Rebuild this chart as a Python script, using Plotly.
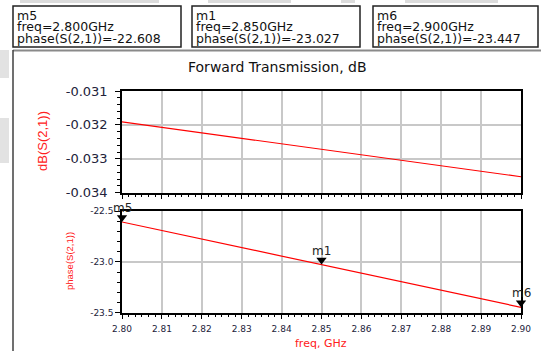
import plotly.graph_objects as go

# Sweep points (GHz) and the two traces of S(2,1)
freq_ghz = [2.80, 2.81, 2.82, 2.83, 2.84, 2.85, 2.86, 2.87, 2.88, 2.89, 2.90]
db_s21 = [-0.03191, -0.03207, -0.03224, -0.03240, -0.03256, -0.03272,
          -0.03288, -0.03304, -0.03321, -0.03337, -0.03353]
phase_s21 = [-22.608, -22.692, -22.776, -22.859, -22.943, -23.027,
             -23.111, -23.195, -23.279, -23.363, -23.447]

# Markers placed on the phase trace
marker_names = ["m5", "m1", "m6"]
marker_freq = [2.800, 2.850, 2.900]
marker_phase = [-22.608, -23.027, -23.447]

# Tick labels
x_ticks = [2.80, 2.81, 2.82, 2.83, 2.84, 2.85, 2.86, 2.87, 2.88, 2.89, 2.90]
x_ticktext = ["2.80", "2.81", "2.82", "2.83", "2.84", "2.85", "2.86", "2.87", "2.88", "2.89", "2.90"]
db_ticks = [-0.031, -0.032, -0.033, -0.034]
db_ticktext = ["-0.031", "-0.032", "-0.033", "-0.034"]
ph_ticks = [-22.5, -23.0, -23.5]
ph_ticktext = ["-22.5", "-23.0", "-23.5"]

W, H = 541, 351
ARIAL = "Liberation Sans, Arial, sans-serif"
WIDE = "DejaVu Sans, Verdana, sans-serif"
TICK_COLOR = "#22223a"
GRID = "#c8c8c8"


def px(x):
    return x / W


def py(y):
    return 1 - y / H


fig = go.Figure()

fig.add_trace(go.Scatter(x=freq_ghz, y=db_s21, mode="lines",
                         line=dict(color="#ff0000", width=1.2),
                         xaxis="x", yaxis="y", showlegend=False))
fig.add_trace(go.Scatter(x=freq_ghz, y=phase_s21, mode="lines",
                         line=dict(color="#ff0000", width=1.2),
                         xaxis="x2", yaxis="y2", showlegend=False))
# downward-pointing marker glyphs, tip resting on the trace
fig.add_trace(go.Scatter(x=marker_freq, y=marker_phase, mode="markers",
                         marker=dict(symbol="triangle-up", size=9, color="black",
                                     angle=180, standoff=4.5),
                         xaxis="x2", yaxis="y2", showlegend=False, cliponaxis=False))

x_dom = [px(122), px(521)]
common_x = dict(range=[2.80, 2.90], domain=x_dom, tickvals=x_ticks,
                showgrid=True, gridcolor=GRID, gridwidth=1.5,
                showline=True, linecolor="black", linewidth=1.5, mirror=True,
                ticks="outside", ticklen=5, tickcolor="black", tickwidth=1.2,
                minor=dict(dtick=0.01 / 6, tick0=2.80, ticks="outside", ticklen=3,
                           tickcolor="black", tickwidth=1.2, showgrid=False),
                zeroline=False, automargin=False)

fig.update_layout(
    width=W, height=H, autosize=False,
    margin=dict(l=0, r=0, t=0, b=0, autoexpand=False),
    paper_bgcolor="white", plot_bgcolor="white",
    font=dict(family=ARIAL),
    xaxis=dict(common_x, anchor="y", showticklabels=False),
    yaxis=dict(range=[-0.034, -0.031], domain=[py(192.7), py(91)],
               tickvals=db_ticks, ticktext=db_ticktext,
               tickfont=dict(size=13, color=TICK_COLOR, family=WIDE),
               showgrid=True, gridcolor=GRID, gridwidth=1.5,
               showline=True, linecolor="black", linewidth=1.5, mirror=True,
               ticks="outside", ticklen=5, tickcolor="black", tickwidth=1.2,
               ticklabelstandoff=5, automargin=False,
               minor=dict(dtick=0.0002, ticks="outside", ticklen=3,
                          tickcolor="black", tickwidth=1.2, showgrid=False),
               zeroline=False, anchor="x"),
    xaxis2=dict(common_x, anchor="y2", ticktext=x_ticktext,
                tickfont=dict(size=9, color=TICK_COLOR, family=WIDE),
                ticklabelstandoff=2),
    yaxis2=dict(range=[-23.5, -22.5], domain=[py(312.7), py(211)],
                tickvals=ph_ticks, ticktext=ph_ticktext,
                tickfont=dict(size=9, color=TICK_COLOR, family=WIDE),
                showgrid=True, gridcolor=GRID, gridwidth=1.5,
                showline=True, linecolor="black", linewidth=1.5, mirror=True,
                ticks="outside", ticklen=5, tickcolor="black", tickwidth=1.2,
                ticklabelstandoff=0, automargin=False,
                minor=dict(dtick=0.1, ticks="outside", ticklen=3,
                           tickcolor="black", tickwidth=1.2, showgrid=False),
                zeroline=False, anchor="x2"),
)

shapes = []
# light grey strips along the top and left edges
for x0, x1 in [(20, 159), (208, 291), (341, 355), (405, 498)]:
    shapes.append(dict(type="rect", xref="paper", yref="paper",
                       x0=px(x0), x1=px(x1), y0=py(3), y1=py(0),
                       fillcolor="#dcdcdc", line=dict(width=0), layer="below"))
for y0, y1 in [(50, 78), (118, 163)]:
    shapes.append(dict(type="rect", xref="paper", yref="paper",
                       x0=0, x1=px(9), y0=py(y1), y1=py(y0),
                       fillcolor="#e2e2e2", line=dict(width=0), layer="below"))
# outer plot frame
shapes.append(dict(type="line", xref="paper", yref="paper",
                   x0=px(13), x1=1, y0=py(50.5), y1=py(50.5),
                   line=dict(color="#8a8a8a", width=2)))
shapes.append(dict(type="line", xref="paper", yref="paper",
                   x0=px(13), x1=px(13), y0=0, y1=py(50),
                   line=dict(color="#404040", width=1.5)))
# marker readout boxes
boxes = [(13, 181), (192, 360), (373, 538)]
for x0, x1 in boxes:
    shapes.append(dict(type="rect", xref="paper", yref="paper",
                       x0=px(x0), x1=px(x1), y0=py(47), y1=py(6),
                       line=dict(color="#222222", width=1.5), fillcolor="white"))
fig.update_layout(shapes=shapes)

ann = []
for (x0, _), name, f, p in zip(boxes, marker_names, marker_freq, marker_phase):
    lines = [name, f"freq={f:.3f}GHz", f"phase(S(2,1))={p:.3f}"]
    for i, t in enumerate(lines):
        ann.append(dict(text=t, xref="paper", yref="paper",
                        x=px(x0 + 2), y=py(15.5 + 11.3 * i),
                        xanchor="left", yanchor="middle", showarrow=False,
                        font=dict(size=12.5, color="#111111", family=WIDE)))

ann.append(dict(text="Forward Transmission, dB", xref="paper", yref="paper",
                x=px(277), y=py(67), xanchor="center", yanchor="middle",
                showarrow=False, font=dict(size=14, color="#111111", family=WIDE)))
ann.append(dict(text="dB(S(2,1))", xref="paper", yref="paper",
                x=px(42), y=py(141), xanchor="center", yanchor="middle",
                textangle=-90, showarrow=False,
                font=dict(size=13, color="#ff2020", family=ARIAL)))
ann.append(dict(text="phase(S(2,1))", xref="paper", yref="paper",
                x=px(69), y=py(261), xanchor="center", yanchor="middle",
                textangle=-90, showarrow=False,
                font=dict(size=9.5, color="#ff2020", family=ARIAL)))
ann.append(dict(text="freq, GHz", xref="paper", yref="paper",
                x=px(321), y=py(343), xanchor="center", yanchor="middle",
                showarrow=False, font=dict(size=11, color="#ff2020", family=WIDE)))
for name, f, p in zip(marker_names, marker_freq, marker_phase):
    ann.append(dict(text=name, xref="x2", yref="y2", x=f, y=p,
                    xanchor="center", yanchor="middle", yshift=14,
                    showarrow=False, font=dict(size=12, color="#222222", family=WIDE)))
fig.update_layout(annotations=ann)

fig.write_html("out.html")
